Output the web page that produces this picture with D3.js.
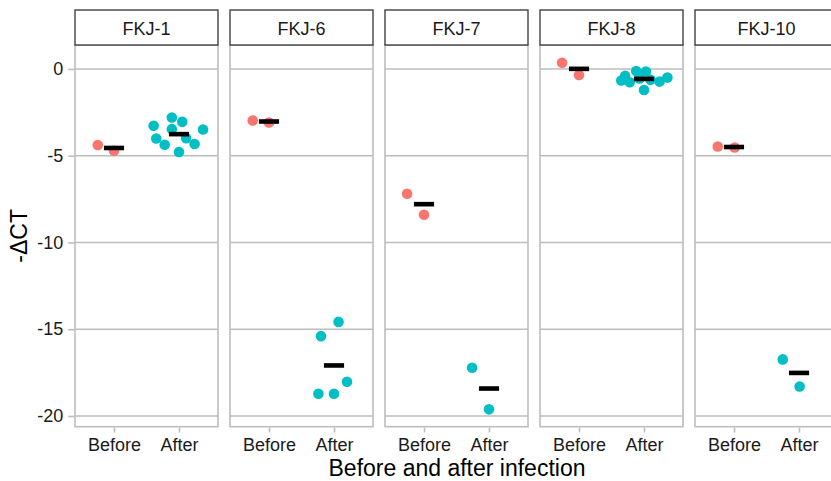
<!DOCTYPE html>
<html>
<head>
<meta charset="utf-8">
<script src="https://cdn.jsdelivr.net/npm/d3@7"></script>
<style>
  body { margin: 0; background: #fff; }
  svg { display: block; font-family: "Liberation Sans", Arial, sans-serif; }
</style>
</head>
<body>
<svg id="chart"></svg>
<script>
// facet panels and the two conditions
const panels = ["FKJ-1", "FKJ-6", "FKJ-7", "FKJ-8", "FKJ-10"];
const conditions = ["Before", "After"];
const yTicks = [0, -5, -10, -15, -20];
const yTickLabels = ["0", "-5", "-10", "-15", "-20"];

// -dCT values per panel
const beforeValues = [
  [-4.39, -4.72],
  [-2.97, -3.09],
  [-7.19, -8.40],
  [0.36, -0.35],
  [-4.47, -4.53]
];
const afterValues = [
  [-3.28, -2.80, -3.05, -3.49, -3.47, -4.01, -4.37, -3.99, -4.33, -4.79],
  [-14.58, -15.40, -18.03, -18.72, -18.72],
  [-17.22, -19.62],
  [-0.67, -0.40, -0.77, -0.12, -0.15, -0.63, -0.73, -0.50, -1.21, -0.55],
  [-16.74, -18.30]
];
// horizontal jitter, in category steps
const beforeJitter = [
  [-0.25, 0],
  [-0.25, 0],
  [-0.26, 0],
  [-0.26, 0],
  [-0.25, 0.01]
];
const afterJitter = [
  [-0.39, -0.11, 0.05, 0.37, -0.11, -0.35, -0.22, 0.11, 0.24, 0],
  [0.07, -0.2, 0.2, -0.24, 0],
  [-0.26, 0],
  [-0.35, -0.29, -0.22, -0.12, 0.03, 0.10, 0.24, 0.36, 0, -0.07],
  [-0.25, 0.01]
];

const colors = { Before: "#F8766D", After: "#00BFC4" };

const W = 831, H = 481;
const plotTop = 45, plotBottom = 426.7, stripTop = 10;

const svg = d3.select("#chart").attr("width", W).attr("height", H);

const fx = d3.scaleBand().domain(panels).range([75, 838]).paddingInner(12 / 155);
const x = d3.scalePoint().domain(conditions).range([0, fx.bandwidth()]).padding(0.6);
const y = d3.scaleLinear().domain([-20.62, 1.38]).range([plotBottom, plotTop]);

// build point records
const points = [];
const means = [];
panels.forEach((p, i) => {
  [["Before", beforeValues[i], beforeJitter[i]], ["After", afterValues[i], afterJitter[i]]].forEach(([c, vals, jit]) => {
    vals.forEach((v, k) => points.push({ panel: p, cond: c, value: v, dx: jit[k] }));
    means.push({ panel: p, cond: c, value: d3.mean(vals) });
  });
});

const panelG = svg.selectAll(".panel")
  .data(panels)
  .enter()
  .append("g")
  .attr("class", "panel")
  .attr("transform", (d) => "translate(" + fx(d) + ",0)");

// panel background and grid
panelG.append("rect")
  .attr("x", 0).attr("y", plotTop)
  .attr("width", fx.bandwidth()).attr("height", plotBottom - plotTop)
  .attr("fill", "#fff");

panelG.selectAll(".grid")
  .data(yTicks)
  .enter()
  .append("line")
  .attr("x1", 0).attr("x2", fx.bandwidth())
  .attr("y1", (d) => y(d)).attr("y2", (d) => y(d))
  .attr("stroke", "#bdbdbd").attr("stroke-width", 1.6);

panelG.append("rect")
  .attr("x", 0).attr("y", plotTop)
  .attr("width", fx.bandwidth()).attr("height", plotBottom - plotTop)
  .attr("fill", "none").attr("stroke", "#bdbdbd").attr("stroke-width", 1.6);

// strips
panelG.append("rect")
  .attr("x", 0).attr("y", stripTop)
  .attr("width", fx.bandwidth()).attr("height", plotTop - stripTop)
  .attr("fill", "#fff").attr("stroke", "#333").attr("stroke-width", 1.3);

panelG.append("text")
  .attr("x", fx.bandwidth() / 2).attr("y", 34.5)
  .attr("text-anchor", "middle")
  .attr("font-size", 18)
  .attr("fill", "#1a1a1a")
  .text((d) => d);

// x axis per panel
panelG.each(function () {
  const g = d3.select(this).append("g")
    .attr("transform", "translate(0," + (plotBottom + 0.8) + ")")
    .call(d3.axisBottom(x).tickSize(5).tickPadding(6));
  g.select(".domain").remove();
  g.selectAll(".tick line").attr("stroke", "#bdbdbd").attr("stroke-width", 1.6);
  g.selectAll(".tick text").attr("font-size", 18).attr("fill", "#1a1a1a")
    .attr("font-family", "Liberation Sans, Arial, sans-serif");
});

// points
svg.selectAll(".pt")
  .data(points)
  .enter()
  .append("circle")
  .attr("class", "pt")
  .attr("cx", (d) => fx(d.panel) + x(d.cond) + d.dx * x.step())
  .attr("cy", (d) => y(d.value))
  .attr("r", 5.3)
  .attr("fill", (d) => colors[d.cond]);

// mean crossbars
svg.selectAll(".mean")
  .data(means)
  .enter()
  .append("line")
  .attr("class", "mean")
  .attr("x1", (d) => fx(d.panel) + x(d.cond) - 0.155 * x.step())
  .attr("x2", (d) => fx(d.panel) + x(d.cond) + 0.155 * x.step())
  .attr("y1", (d) => y(d.value))
  .attr("y2", (d) => y(d.value))
  .attr("stroke", "#000")
  .attr("stroke-width", 4.6);

// y axis
const yAxis = svg.append("g")
  .attr("transform", "translate(" + (fx(panels[0]) - 0.8) + ",0)")
  .call(d3.axisLeft(y).tickValues(yTicks)
    .tickFormat((d, i) => yTickLabels[i]).tickSize(6).tickPadding(5));
yAxis.select(".domain").remove();
yAxis.selectAll(".tick line").attr("stroke", "#bdbdbd").attr("stroke-width", 1.6);
yAxis.selectAll(".tick text").attr("font-size", 18).attr("fill", "#1a1a1a")
  .attr("font-family", "Liberation Sans, Arial, sans-serif");

// titles
svg.append("text")
  .attr("x", 457).attr("y", 476)
  .attr("text-anchor", "middle")
  .attr("font-size", 23)
  .attr("fill", "#000")
  .text("Before and after infection");

svg.append("text")
  .attr("transform", "translate(27," + (plotTop + plotBottom) / 2 + ") rotate(-90)")
  .attr("text-anchor", "middle")
  .attr("font-size", 23)
  .attr("fill", "#000")
  .text("-ΔCT");
</script>
</body>
</html>
